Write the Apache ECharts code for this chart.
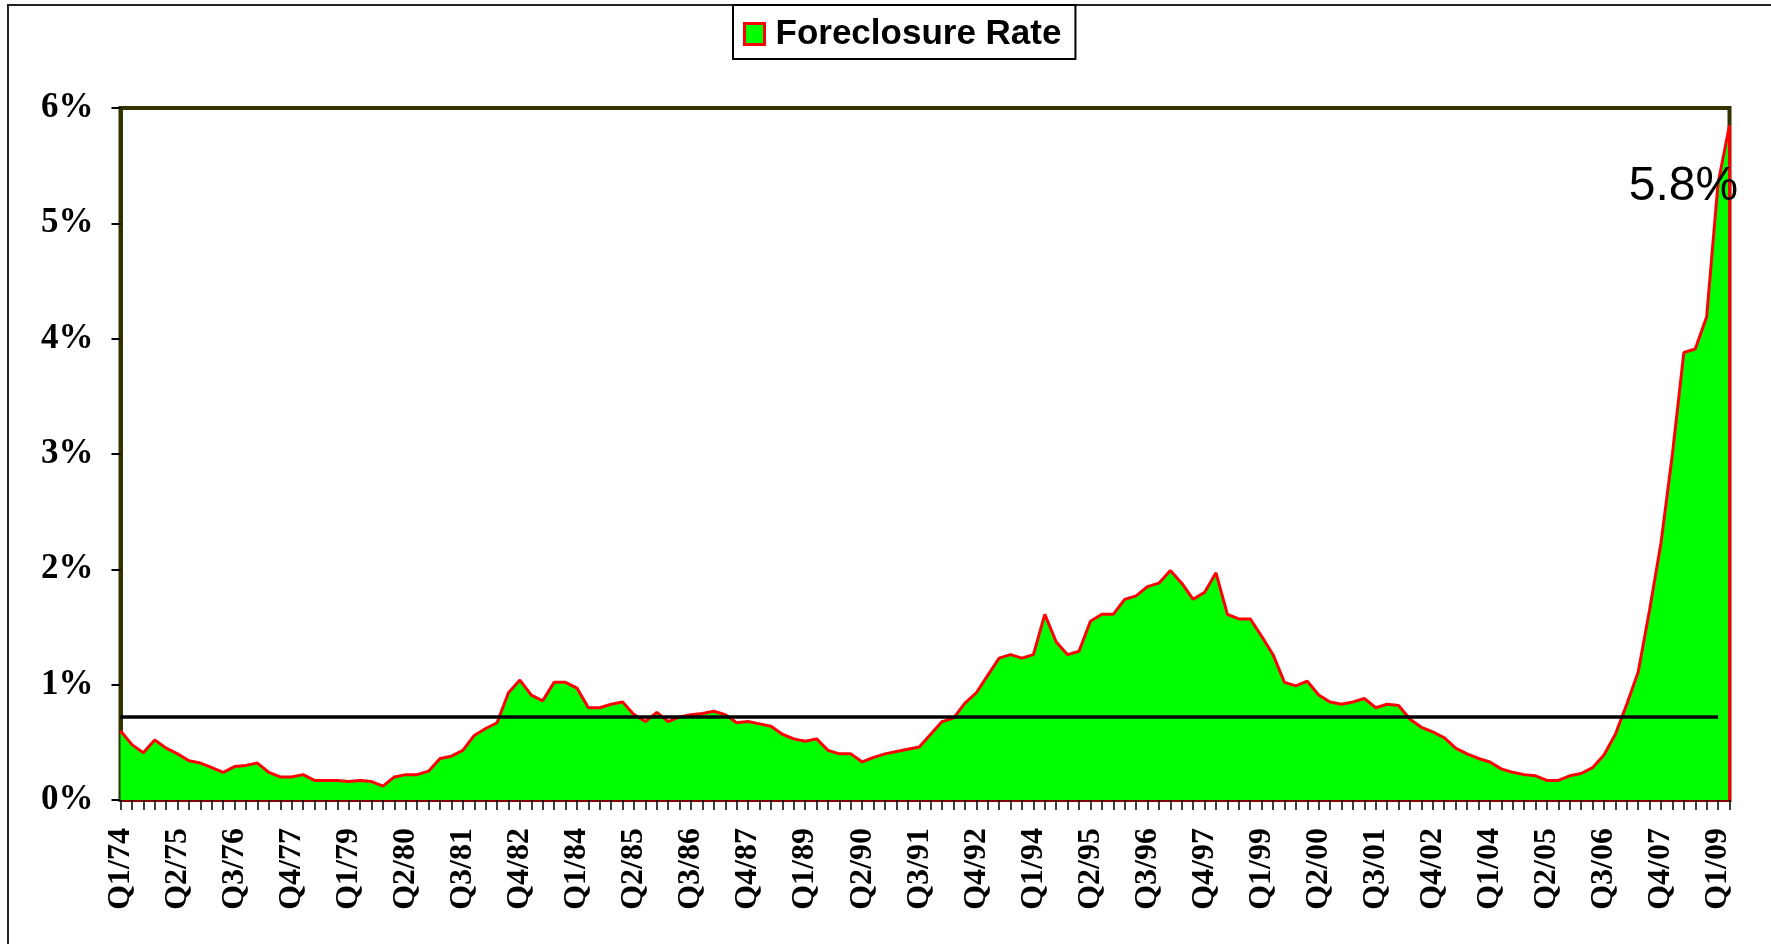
<!DOCTYPE html>
<html>
<head>
<meta charset="utf-8">
<script src="https://cdn.jsdelivr.net/npm/echarts@6/dist/echarts.min.js"></script>
<style>
html,body{margin:0;padding:0;background:#fff;}
#chart{width:1771px;height:944px;}
</style>
</head>
<body>
<div id="chart"></div>
<script>
// Quarterly categories Q1/74 .. Q2/09
const quarters = [];
for (let y = 1974; y <= 2009; y++) {
  for (let q = 1; q <= 4; q++) {
    if (y === 2009 && q > 2) break;
    quarters.push('Q' + q + '/' + String(y % 100).padStart(2, '0'));
  }
}

// Foreclosure rate (%) per quarter
const foreclosureRate = [
  0.60, 0.48, 0.41, 0.52, 0.45, 0.40, 0.34, 0.32, 0.28, 0.24,
  0.29, 0.30, 0.32, 0.24, 0.20, 0.20, 0.22, 0.17, 0.17, 0.17,
  0.16, 0.17, 0.16, 0.12, 0.20, 0.22, 0.22, 0.25, 0.36, 0.38,
  0.43, 0.56, 0.62, 0.67, 0.93, 1.04, 0.91, 0.86, 1.02, 1.02,
  0.97, 0.80, 0.80, 0.83, 0.85, 0.74, 0.68, 0.76, 0.68, 0.72,
  0.74, 0.75, 0.77, 0.74, 0.67, 0.68, 0.66, 0.64, 0.57, 0.53,
  0.51, 0.53, 0.43, 0.40, 0.40, 0.33, 0.37, 0.40, 0.42, 0.44,
  0.46, 0.57, 0.68, 0.71, 0.84, 0.93, 1.08, 1.23, 1.26, 1.23,
  1.26, 1.61, 1.37, 1.26, 1.29, 1.55, 1.61, 1.61, 1.74, 1.77,
  1.85, 1.88, 1.99, 1.88, 1.74, 1.80, 1.97, 1.61, 1.57, 1.57,
  1.42, 1.26, 1.02, 0.99, 1.03, 0.91, 0.85, 0.83, 0.85, 0.88,
  0.80, 0.83, 0.82, 0.70, 0.63, 0.59, 0.54, 0.45, 0.40, 0.36,
  0.33, 0.27, 0.24, 0.22, 0.21, 0.17, 0.17, 0.21, 0.23, 0.28,
  0.39, 0.57, 0.83, 1.11, 1.65, 2.23, 3.00, 3.88, 3.91, 4.19,
  5.35, 5.85
];

// Long-run average rate (%)
const averageRate = 0.72;
const averageEndCategory = 'Q1/09';
const yTicks = [0, 1, 2, 3, 4, 5, 6];
const latestLabel = '5.8%';
const seriesName = 'Foreclosure Rate';

const lastCat = quarters[quarters.length - 1];
const lastVal = foreclosureRate[foreclosureRate.length - 1];

const chart = echarts.init(document.getElementById('chart'), null, {renderer: 'canvas'});

const option = {
  animation: false,
  backgroundColor: '#ffffff',
  grid: {
    left: 120.5, right: 41.5, top: 108, bottom: 144,
    show: true, borderColor: '#333300', borderWidth: 4,
    backgroundColor: 'transparent'
  },
  legend: {
    left: 733, top: 5,
    padding: [10, 14, 6, 10],
    borderColor: '#000', borderWidth: 2,
    backgroundColor: '#fff',
    itemWidth: 20, itemHeight: 21,
    textStyle: {
      fontFamily: 'Liberation Sans, Arial, sans-serif',
      fontWeight: 'bold', fontSize: 35, color: '#000',
      padding: [0, 0, 0, 6], lineHeight: 38
    },
    data: [{
      name: seriesName, icon: 'rect',
      itemStyle: {color: '#00ff00', borderColor: '#ff0000', borderWidth: 3}
    }]
  },
  xAxis: {
    type: 'category',
    data: quarters,
    boundaryGap: false,
    axisLine: {show: true, lineStyle: {color: '#800000', width: 3}},
    axisTick: {show: true, interval: 0, length: 10, lineStyle: {color: '#000', width: 1.5}},
    axisLabel: {
      interval: 4, rotate: 90, margin: 28,
      fontFamily: 'Liberation Serif, Times New Roman, serif',
      fontWeight: 'bold', fontSize: 32, color: '#000'
    },
    splitLine: {show: false}
  },
  yAxis: {
    type: 'value',
    min: yTicks[0], max: yTicks[yTicks.length - 1], interval: 1,
    axisLine: {show: true, lineStyle: {color: '#333300', width: 4}},
    axisTick: {show: true, length: 9, lineStyle: {color: '#000', width: 2}},
    axisLabel: {
      formatter: '{value}%', margin: 27,
      fontFamily: 'Liberation Serif, Times New Roman, serif',
      fontWeight: 'bold', fontSize: 35, color: '#000'
    },
    splitLine: {show: false}
  },
  series: [{
    name: seriesName,
    type: 'line',
    data: foreclosureRate,
    symbol: 'none',
    lineStyle: {color: '#ff0000', width: 3},
    itemStyle: {color: '#00ff00'},
    areaStyle: {color: '#00ff00', opacity: 1},
    z: 2,
    markLine: {
      silent: true,
      symbol: ['none', 'none'],
      label: {show: false},
      data: [
        [
          {coord: [quarters[0], averageRate], lineStyle: {color: '#000', width: 3.5, type: 'solid'}},
          {coord: [averageEndCategory, averageRate]}
        ],
        [
          {coord: [lastCat, 0], lineStyle: {color: '#ff0000', width: 3, type: 'solid'}},
          {coord: [lastCat, lastVal]}
        ]
      ]
    },
    markPoint: {
      silent: true,
      symbol: 'circle', symbolSize: 0,
      data: [{
        coord: [lastCat, lastVal],
        label: {
          show: true, formatter: latestLabel,
          offset: [-46, 61],
          fontFamily: 'Liberation Sans, Arial, sans-serif',
          fontSize: 48, color: '#000'
        }
      }]
    }
  }],
  graphic: [{
    type: 'rect', z: -10, silent: true,
    shape: {x: 8, y: 5, width: 1800, height: 1000},
    style: {fill: 'none', stroke: '#222', lineWidth: 2}
  }]
};

chart.setOption(option);
</script>
</body>
</html>
